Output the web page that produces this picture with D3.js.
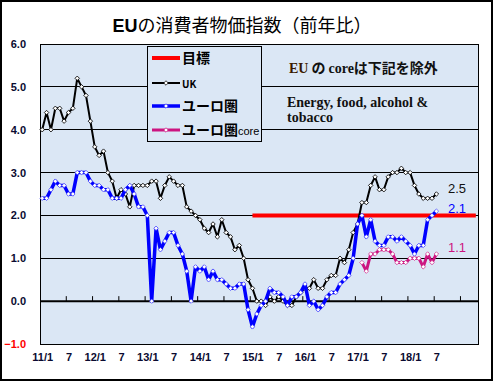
<!DOCTYPE html>
<html>
<head>
<meta charset="utf-8">
<script src="https://cdn.jsdelivr.net/npm/d3@7"></script>
<style>
 body{margin:0;background:#fff;}
 svg{display:block;}
 .ax text{font-family:"Liberation Sans",Arial,sans-serif;font-weight:bold;font-size:11px;fill:#0a0a30;}
</style>
</head>
<body>
<script>
// 2011/1 .. 2019/4 (chart area), data to 2018/7
const nCat = 100
const tickLabels = ['11/1','7','12/1','7','13/1','7','14/1','7','15/1','7','16/1','7','17/1','7','18/1','7']

const uk = [4.0,4.4,4.0,4.5,4.5,4.2,4.4,4.5,5.2,5.0,4.8,4.2,
  3.6,3.4,3.5,3.0,2.8,2.4,2.6,2.5,2.2,2.7,2.7,2.7,
  2.7,2.8,2.8,2.4,2.7,2.9,2.8,2.7,2.7,2.2,2.1,2.0,
  1.9,1.7,1.6,1.8,1.5,1.9,1.6,1.5,1.2,1.3,1.0,0.5,
  0.3,0.0,0.0,-0.1,0.1,0.0,0.1,0.0,-0.1,-0.1,0.1,0.2,
  0.3,0.3,0.5,0.3,0.3,0.5,0.6,0.6,1.0,0.9,1.2,1.6,
  1.8,2.3,2.3,2.7,2.9,2.6,2.6,2.9,3.0,3.0,3.1,3.0,
  3.0,2.7,2.5,2.4,2.4,2.4,2.5]

const euro = [2.4,2.4,2.6,2.8,2.7,2.7,2.5,2.5,3.0,3.0,3.0,2.8,
  2.7,2.7,2.6,2.6,2.4,2.4,2.4,2.6,2.7,2.5,2.2,2.2,
  2.0,0.0,1.7,1.2,1.4,1.6,1.6,1.3,1.1,0.7,0.0,0.8,
  0.7,0.8,0.5,0.7,0.5,0.5,0.4,0.3,0.3,0.4,0.4,-0.2,
  -0.6,-0.3,-0.1,0.0,0.3,0.2,0.2,0.1,-0.1,0.1,0.1,0.2,
  0.4,-0.1,0.0,-0.2,-0.1,0.1,0.2,0.2,0.4,0.5,0.6,1.0,
  1.8,2.0,1.5,1.9,1.4,1.3,1.3,1.5,1.5,1.4,1.5,1.4,
  1.3,1.1,1.3,1.3,1.9,2.0,2.1]

// core starts 2017/2 (index 73)
const coreStart = 73
const euroCore = [0.9,0.7,1.1,1.1,1.2,1.2,1.2,1.1,0.9,0.9,0.9,1.0,1.0,1.0,0.8,1.1,0.9,1.1]

// target 2.0 from 2015/1 (index 48) to the end of the axis
const targetStart = 48
const targetValue = 2.0

const lastLabels = [{v:2.5,t:'2.5',c:'#111'},{v:2.1,t:'2.1',c:'#0000ff'},{v:1.1,t:'1.1',c:'#cc1480'}]

var W=495,H=382
var svg=d3.select('body').append('svg').attr('width',W).attr('height',H)

svg.append('rect').attr('x',1).attr('y',1).attr('width',491).attr('height',379)
  .attr('fill','#fff').attr('stroke','#000').attr('stroke-width',2)

var x=d3.scaleLinear().domain([-0.5,nCat-0.5]).range([40,478])
var y=d3.scaleLinear().domain([-1,6]).range([344,44])

// plot area
svg.append('rect').attr('x',40).attr('y',44).attr('width',438).attr('height',300)
  .attr('fill','#dbe7f5')

// gridlines
svg.append('g').selectAll('line').data([1,2,3,4,5]).join('line')
  .attr('x1',40).attr('x2',478).attr('y1',d=>y(d)).attr('y2',d=>y(d))
  .attr('stroke','#000').attr('stroke-width',1).attr('shape-rendering','crispEdges')

svg.append('rect').attr('x',40.5).attr('y',44.5).attr('width',438).attr('height',300)
  .attr('fill','none').attr('stroke','#000').attr('stroke-width',1)

// zero axis + tick marks
svg.append('line').attr('x1',40).attr('x2',478).attr('y1',y(0)).attr('y2',y(0))
  .attr('stroke','#000').attr('stroke-width',2)
svg.append('g').selectAll('line').data(d3.range(1,17)).join('line')
  .attr('x1',d=>x(d*6-0.5)).attr('x2',d=>x(d*6-0.5))
  .attr('y1',y(0)-5).attr('y2',y(0)).attr('stroke','#000').attr('stroke-width',1)

// y axis
var yAxis=svg.append('g').attr('class','ax').attr('transform','translate(40,0)')
  .call(d3.axisLeft(y).tickValues(d3.range(-1,7)).tickFormat(d3.format('.1f')).tickSize(0).tickPadding(14))
yAxis.select('.domain').remove()
yAxis.selectAll('text').attr('fill',d=>d<0?'#ff0000':'#0a0a30').style('fill',d=>d<0?'#ff0000':'#0a0a30')

// x axis
var xAxis=svg.append('g').attr('class','ax').attr('transform','translate(0,344)')
  .call(d3.axisBottom(x).tickValues(tickLabels.map((d,i)=>i*6)).tickFormat((d,i)=>tickLabels[i]).tickSize(0).tickPadding(9))
xAxis.select('.domain').remove()

var line=d3.line().defined(d=>d.v!=null).x(d=>x(d.i)).y(d=>y(d.v))
var diamond=d3.symbol().type(d3.symbolSquare).size(10)

function series(vals,start,color,width,mStroke,mWidth){
  var pts=vals.map((v,i)=>({i:i+start,v:v}))
  var g=svg.append('g')
  g.append('path').attr('d',line(pts)).attr('fill','none')
    .attr('stroke',color).attr('stroke-width',width).attr('stroke-linejoin','round')
  if(mStroke){
    g.selectAll('path.m').data(pts).join('path').attr('class','m')
      .attr('d',diamond).attr('transform',d=>'translate('+x(d.i)+','+y(d.v)+') rotate(45)')
      .attr('fill','#fff').attr('stroke',mStroke).attr('stroke-width',mWidth)
  }
}

var target=d3.range(targetStart,nCat).map(()=>targetValue)
series(target,targetStart,'#ff0000',4,null)
series(uk,0,'#000',2,'#000',0.8)
series(euro,0,'#0000ff',3.5,'#3030ff',0.6)
series(euroCore,coreStart,'#cc1480',3,'#cc1480',0.6)

// end labels
svg.append('g').selectAll('text').data(lastLabels).join('text')
  .attr('x',448).attr('y',(d,i)=>[193,213,252][i])
  .attr('fill',d=>d.c).attr('font-family','"Liberation Sans",Arial,sans-serif')
  .attr('font-size',13).text(d=>d.t)

// legend
var lg=svg.append('g')
lg.append('rect').attr('x',147.5).attr('y',46.5).attr('width',114).attr('height',95)
  .attr('fill','#dbe7f5').attr('stroke','#000').attr('stroke-width',1)
var legendItems=[
  {c:'#ff0000',w:4,m:null,y:58,t:'目標',s:14},
  {c:'#000',w:2,m:'#000',y:83,t:'UK',s:10},
  {c:'#0000ff',w:3.5,m:'#3030ff',y:106,t:'ユーロ圏',s:14},
  {c:'#cc1480',w:3,m:'#cc1480',y:130,t:'ユーロ圏',s:14,extra:'core'}
]
legendItems.forEach(function(d){
  lg.append('line').attr('x1',152).attr('x2',180).attr('y1',d.y).attr('y2',d.y)
    .attr('stroke',d.c).attr('stroke-width',d.w)
  if(d.m){
    lg.append('path').attr('d',diamond).attr('transform','translate(166,'+d.y+') rotate(45)')
      .attr('fill','#fff').attr('stroke',d.m).attr('stroke-width',0.7)
  }
  var t=lg.append('text').attr('x',182).attr('y',d.y+5)
    .attr('font-family','"Noto Sans CJK JP","Liberation Sans",sans-serif')
    .attr('font-weight','bold').attr('font-size',d.s).attr('fill','#000').text(d.t)
  if(d.extra){
    t.append('tspan').attr('font-family','"Liberation Sans",Arial,sans-serif')
      .attr('font-weight','normal').attr('font-size',11).text(d.extra)
  }
})

// note text
var note=svg.append('g').attr('font-family','"Liberation Serif","Times New Roman",serif')
  .attr('font-weight','bold').attr('fill','#111')
var n1=note.append('text').attr('x',289).attr('y',73).attr('font-size',14)
n1.append('tspan').attr('fill','#3a1a00').text('EU')
n1.append('tspan').attr('font-family','"Noto Sans CJK JP",sans-serif').attr('dx',3).text('の')
n1.append('tspan').attr('dx',3).text('core')
n1.append('tspan').attr('font-family','"Noto Sans CJK JP",sans-serif').text('は下記を除外')
note.append('text').attr('x',287).attr('y',107).attr('font-size',14).text('Energy, food, alcohol &')
note.append('text').attr('x',287).attr('y',122).attr('font-size',14).text('tobacco')

// title
var title=svg.append('text').attr('x',242).attr('y',32).attr('text-anchor','middle')
  .attr('font-family','"Noto Sans CJK JP",sans-serif').attr('font-size',18).attr('fill','#000')
title.append('tspan').attr('font-weight','bold').attr('font-family','"Liberation Sans",Arial,sans-serif').text('EU')
title.append('tspan').text('の消費者物価指数（前年比）')
</script>
</body>
</html>
